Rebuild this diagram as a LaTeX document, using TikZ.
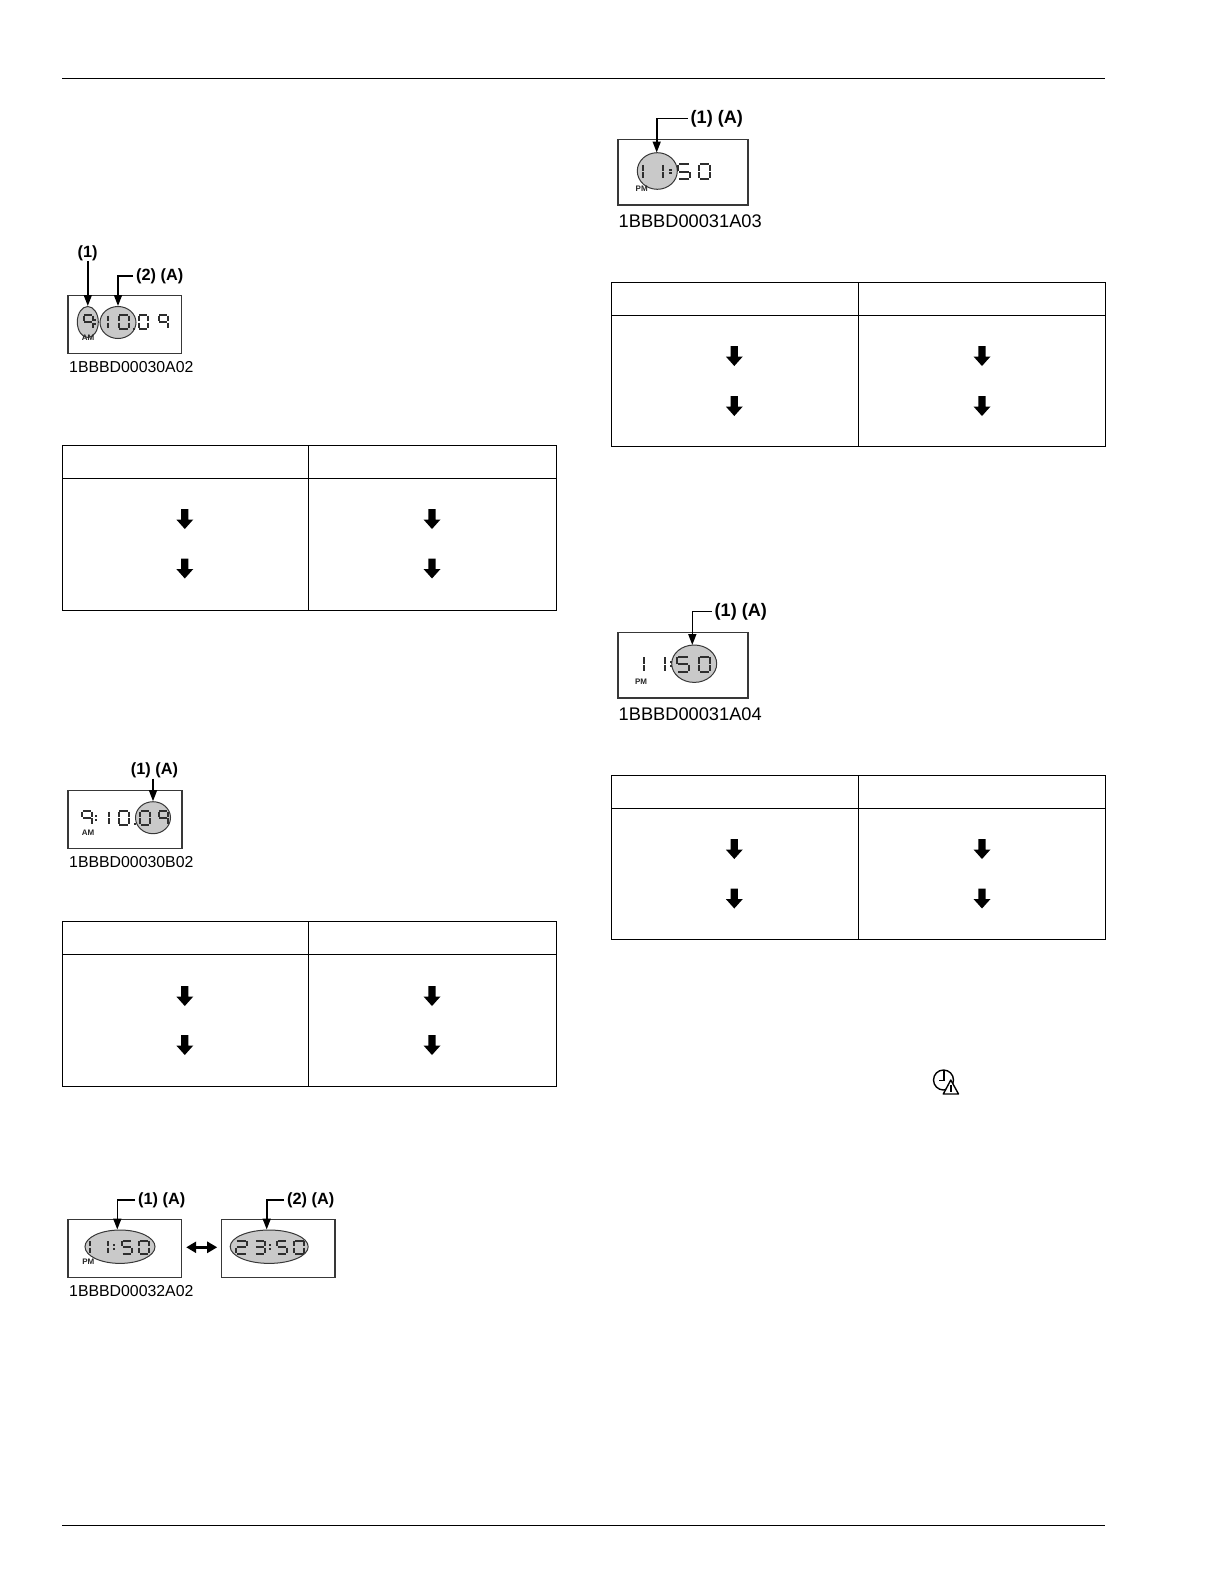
\documentclass[tikz,border=0pt]{standalone}
\usepackage{fontspec}
\setmainfont{Liberation Sans}
\usetikzlibrary{arrows.meta,shapes.geometric}
\definecolor{lcd}{gray}{0.18}
\definecolor{oval}{gray}{0.79}
\definecolor{frame}{gray}{0.22}
\tikzset{
  seg/.style={draw=lcd,line width=2pt,line cap=butt},
  lcdbox/.style={draw=frame,line width=1.2pt,fill=white,anchor=north west,inner sep=0pt,minimum width=#1,minimum height=57.5pt},
  oval/.style={ellipse,draw=frame,line width=1pt,fill=oval,inner sep=0pt},
  callout/.style={inner sep=0pt,inner xsep=3pt,font=\fontsize{16.3}{18}\selectfont\bfseries},
  bigcallout/.style={inner sep=0pt,inner xsep=3pt,font=\fontsize{18.1}{20}\selectfont\bfseries},
  caption/.style={inner sep=0pt,anchor=west,font=\fontsize{15.85}{18}\selectfont},
  bigcaption/.style={inner sep=0pt,anchor=west,font=\fontsize{18.25}{20}\selectfont},
  ampm/.style={inner sep=0pt,text=black!85,font=\fontsize{8}{8}\selectfont\bfseries},
  lead/.style={draw=black,line width=1.6pt,-{Triangle[length=11pt,width=8pt]}},
  rule/.style={draw=black,line width=1pt},
  cell/.style={draw=black,line width=0.85pt},
  tipblock/.style={fill=black,draw=none},
}
% segments
\newcommand\SA{\draw[seg] (0.08,0)--(0.92,0);}
\newcommand\SB{\draw[seg] (1,0.04)--(1,0.46);}
\newcommand\SC{\draw[seg] (1,0.54)--(1,0.96);}
\newcommand\SD{\draw[seg] (0.08,1)--(0.92,1);}
\newcommand\SE{\draw[seg] (0,0.54)--(0,0.96);}
\newcommand\SF{\draw[seg] (0,0.04)--(0,0.46);}
\newcommand\SG{\draw[seg] (0.08,0.5)--(0.92,0.5);}
\newcommand\DOne{\draw[seg] (0,0.04)--(0,0.46);\draw[seg] (0,0.54)--(0,0.96);}
\newcommand\DTwo{\SA\SB\SG\SE\SD}
\newcommand\DThree{\SA\SB\SG\SC\SD}
\newcommand\DFive{\SA\SF\SG\SC\SD}
\newcommand\DNine{\SA\SB\SC\SF\SG}
\newcommand\DZero{\SA\SB\SC\SD\SE\SF}
% x, y, width, height, digit
\newcommand\dg[5]{\begin{scope}[shift={(#1,#2)},x=#3pt,y=-#4pt]#5\end{scope}}
\newcommand\colonat[3]{\fill[lcd] (#1-1.1,#2-2.8) rectangle (#1+1.1,#2-0.7);\fill[lcd] (#1-1.1,#2+0.7) rectangle (#1+1.1,#2+2.8);}
% block arrow centred at x, top y
\newcommand\blockdown[2]{\fill[tipblock] (#1-3.6,#2)--(#1+3.6,#2)--(#1+3.6,#2+10.5)--(#1+8.5,#2+10.5)--(#1,#2+20)--(#1-8.5,#2+10.5)--(#1-3.6,#2+10.5)--cycle;}
% table: xL xM xR yT yH yB arrow-y1 arrow-y2
\newcommand\flowtable[8]{%
  \draw[cell] (#1,#4) rectangle (#3,#6);
  \draw[cell] (#1,#5)--(#3,#5);
  \draw[cell] (#2,#4)--(#2,#6);
  \blockdown{#1+122.8}{#7}\blockdown{#1+122.8}{#8}
  \blockdown{#2+123.5}{#7}\blockdown{#2+123.5}{#8}
}
\begin{document}
\begin{tikzpicture}[x=1pt,y=-1pt]
\useasboundingbox (0,0) rectangle (1224,1584);
\fill[white] (0,0) rectangle (1224,1584);
% page rules
\draw[rule] (62,78.5)--(1105,78.5);
\draw[rule] (62,1525)--(1105,1525);
% tables
\flowtable{62}{308.5}{556}{445}{478}{610}{509}{558.5}
\flowtable{62}{308.5}{556}{921}{954.5}{1086}{986}{1035}
\flowtable{611.5}{858.5}{1105}{282}{315}{446.5}{346}{396}
\flowtable{611.5}{858.5}{1105}{775}{808}{939}{839}{888.5}

% FIGURE 1
\node[lcdbox=113.7pt] (f1box) at (67.3,295) {};
\node[oval,minimum width=21pt,minimum height=31pt] (f1a) at (87.8,322) {};
\node[oval,minimum width=36pt,minimum height=32pt] (f1b) at (118,322.5) {};
\dg{83.5}{315}{9}{14}{\DNine}
\colonat{95}{322}{}
\dg{108}{315}{9}{14}{\DOne}
\dg{118.5}{315}{10}{14}{\DZero}
\fill[lcd] (133,327.5) rectangle (135,329.5);
\dg{138.5}{315}{9.5}{14}{\DZero}
\dg{158.5}{315}{9.5}{14}{\DNine}
\node[ampm] (f1am) at (88,338) {AM};
\node[callout] (f1l1) at (87.7,253) {(1)};
\node[callout,anchor=west] (f1l2) at (133,276) {(2) (A)};
\draw[lead] (f1a.north |- f1l1.south) -- (f1a.north);
\draw[lead] (f1l2.west) -| (f1b.north);
\node[caption] (f1cap) at (69,366.7) {1BBBD00030A02};

% FIGURE 2
\node[lcdbox=114pt] (f2box) at (67.3,790) {};
\node[oval,minimum width=35pt,minimum height=32pt] (f2a) at (153,817.7) {};
\dg{82}{811}{9.5}{13.5}{\DNine}
\colonat{96}{818}{}
\dg{109}{811}{9}{13.5}{\DOne}
\dg{118.5}{811}{10.5}{13.5}{\DZero}
\fill[lcd] (134,823) rectangle (136,825);
\dg{140}{811}{9.5}{13.5}{\DZero}
\dg{158.5}{811}{9.5}{13.5}{\DNine}
\node[ampm] (f2am) at (88,833) {AM};
\node[callout] (f2l1) at (154.5,770.7) {(1) (A)};
\draw[lead] (f2a.north |- f2l1.south) -- (f2a.north);
\node[caption] (f2cap) at (69,861.7) {1BBBD00030B02};

% FIGURE 3
\node[lcdbox=113.7pt] (f3box) at (67.3,1219) {};
\node[lcdbox=113.7pt] (f3boxb) at (220.7,1219) {};
\node[oval,minimum width=70pt,minimum height=33.4pt] (f3a) at (120,1246.7) {};
\node[oval,minimum width=78pt,minimum height=33.4pt] (f3b) at (269.2,1246.7) {};
\coordinate (f3ta) at (117.3,1229.5);
\coordinate (f3tb) at (266.7,1229.5);
\dg{90}{1240.5}{9}{13}{\DOne}
\dg{108.3}{1240.5}{9}{13}{\DOne}
\colonat{114}{1247}{}
\dg{121.7}{1240.5}{10}{13}{\DFive}
\dg{139}{1240.5}{10}{13}{\DZero}
\dg{236}{1240.5}{10.5}{13}{\DTwo}
\dg{255}{1240.5}{10}{13}{\DThree}
\colonat{270}{1247}{}
\dg{276.7}{1240.5}{10}{13}{\DFive}
\dg{294.3}{1240.5}{10}{13}{\DZero}
\node[ampm] (f3pm) at (88.3,1261.7) {PM};
\node[callout,anchor=west] (f3l1) at (135,1200) {(1) (A)};
\node[callout,anchor=west] (f3l2) at (284,1200) {(2) (A)};
\draw[lead] (f3l1.west) -| (f3ta);
\draw[lead] (f3l2.west) -| (f3tb);
\draw[draw=black,line width=2.8pt,{Triangle[length=10pt,width=11pt]}-{Triangle[length=10pt,width=11pt]}] (f3box.east |- f3a) ++(4,0.6) -- ++(31,0) coordinate (f3end);
\node[caption] (f3cap) at (69,1290.7) {1BBBD00032A02};

% FIGURE 4
\node[lcdbox=130pt,minimum height=65pt] (f4box) at (617.3,139.3) {};
\node[oval,minimum width=40pt,minimum height=36.6pt] (f4a) at (657.3,171) {};
\dg{643.3}{164.3}{9}{14.7}{\DOne}
\dg{663}{164.3}{9}{14.7}{\DOne}
\colonat{670.5}{171.5}{}
\dg{678.3}{164.3}{11.5}{14.7}{\DFive}
\dg{699}{164.3}{11}{14.7}{\DZero}
\node[ampm] (f4pm) at (641.7,189) {PM};
\node[bigcallout,anchor=west] (f4l) at (687.5,118.5) {(1) (A)};
\coordinate (f4t) at (656.7,152.5);
\draw[lead] (f4l.west) -| (f4t);
\node[bigcaption] (f4cap) at (618.5,221) {1BBBD00031A03};

% FIGURE 5
\node[lcdbox=130pt,minimum height=65.3pt] (f5box) at (617.3,632) {};
\node[oval,minimum width=45pt,minimum height=37.4pt] (f5a) at (694.2,663.7) {};
\dg{644}{656.7}{9}{15}{\DOne}
\dg{665}{656.7}{9}{15}{\DOne}
\colonat{671}{664}{}
\dg{677.3}{656.7}{12}{15}{\DFive}
\dg{699}{656.7}{11}{15}{\DZero}
\node[ampm] (f5pm) at (641,681.7) {PM};
\node[bigcallout,anchor=west] (f5l) at (711.5,611.5) {(1) (A)};
\coordinate (f5t) at (692.3,645);
\draw[lead] (f5l.west) -| (f5t);
\node[bigcaption] (f5cap) at (618.5,714) {1BBBD00031A04};

% clock warning icon
\draw[black,line width=1.4pt] (943.5,1080) circle (10);
\draw[black,line width=1.2pt] (944,1071)--(944,1080.5)--(938.5,1080.5);
\draw[black,fill=white,line width=1.4pt,line join=round] (950.8,1080)--(958.5,1094)--(943.3,1094)--cycle;
\fill[black] (950,1084.5) rectangle (951.6,1089.5);
\fill[black] (950,1090.3) rectangle (951.6,1092);
\end{tikzpicture}
\end{document}
